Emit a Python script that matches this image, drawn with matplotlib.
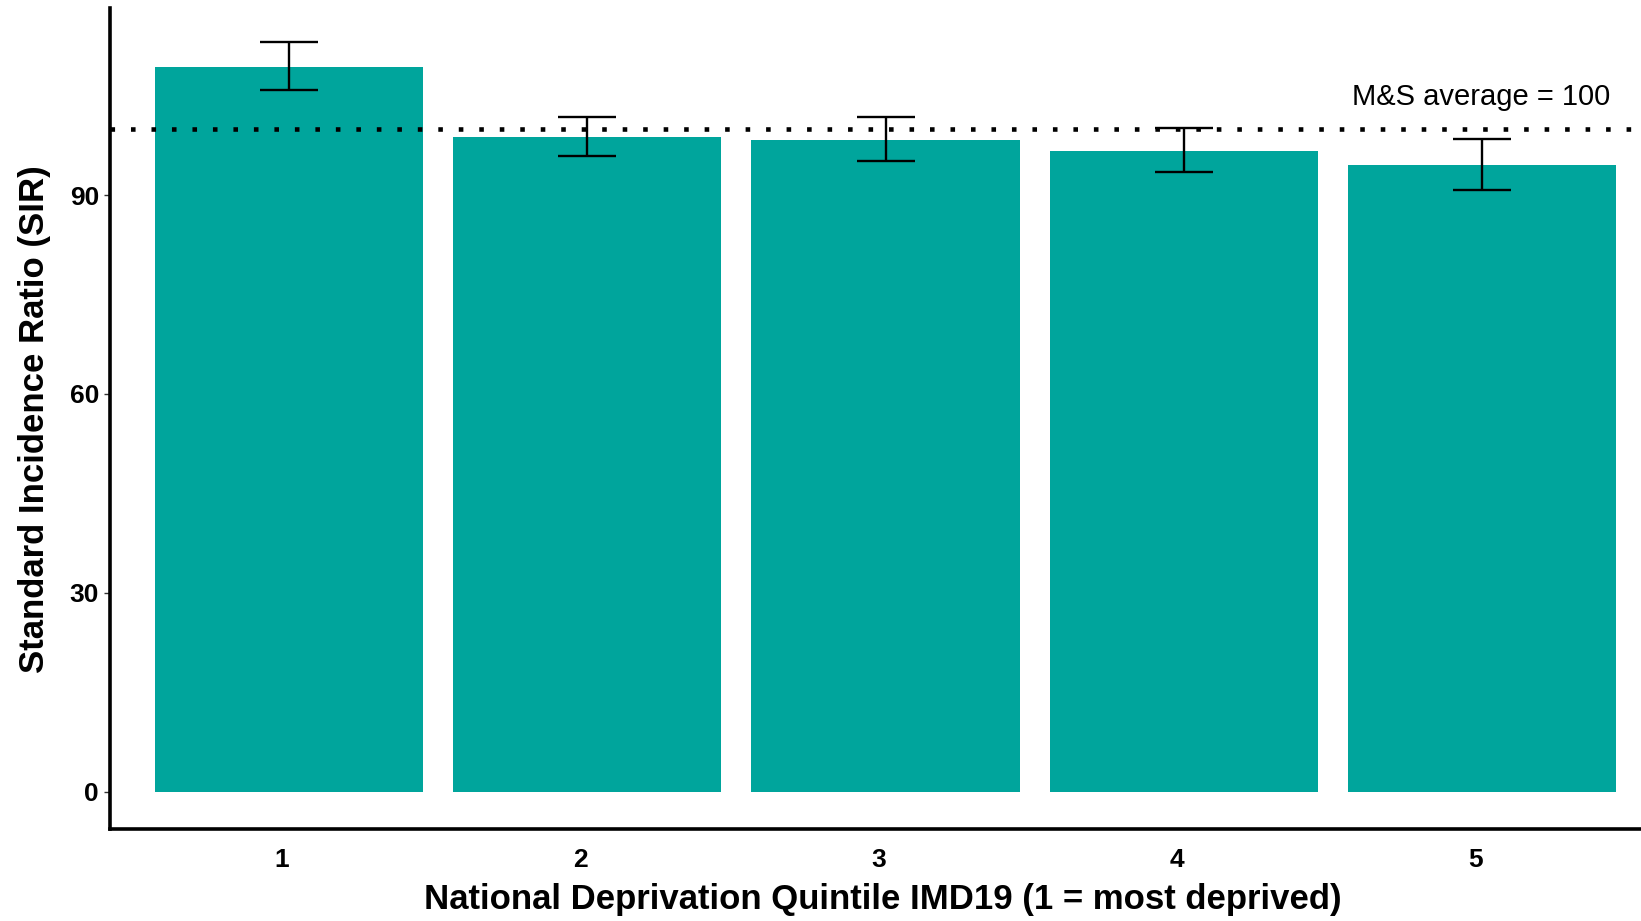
import matplotlib
matplotlib.use("Agg")
import matplotlib.pyplot as plt
import matplotlib.transforms as mtransforms

quintiles = ["1", "2", "3", "4", "5"]
sir = [109.3, 98.7, 98.3, 96.6, 94.5]
ci_low = [105.9, 95.9, 95.2, 93.4, 90.7]
ci_high = [113.0, 101.8, 101.7, 100.1, 98.5]
average = 100

teal = "#00A59C"
plt.rcParams["font.family"] = ["Liberation Sans", "DejaVu Sans"]

W, H = 1641, 921
fig = plt.figure(figsize=(W / 100, H / 100), dpi=100)
# axes placed in pixels; right edge runs past the figure like the reference
left, right, top, bottom = 110, 1661, 8, 829
ax = fig.add_axes([left / W, 1 - bottom / H, (right - left) / W, (bottom - top) / H])

x = list(range(1, len(quintiles) + 1))
ax.bar(x, sir, width=0.9, color=teal, zorder=1)
yerr = [[s - lo for s, lo in zip(sir, ci_low)], [hi - s for s, hi in zip(sir, ci_high)]]
ax.errorbar(x, sir, yerr=yerr, fmt="none", ecolor="black", elinewidth=1.7,
            capsize=21, capthick=1.7, zorder=3)

ax.axhline(average, color="black", lw=3.3, linestyle=(0, (1, 3.47)), zorder=2)
ax.text(5.43, 104.8, "M&S average = 100", ha="right", va="center", fontsize=21)

ax.set_xlim(0.4, 5.6)
ax.set_ylim(-5.6, 118.2)
ax.set_xticks(x)
ax.set_xticklabels(quintiles)
ax.set_yticks([0, 30, 60, 90])

for s in ["top", "right"]:
    ax.spines[s].set_visible(False)
for s in ["left", "bottom"]:
    ax.spines[s].set_linewidth(2.6)

ax.tick_params(axis="y", length=4, width=1, color="#333333", labelsize=19, pad=4)
ax.tick_params(axis="x", length=0, labelsize=19, pad=14)
for lab in ax.get_xticklabels() + ax.get_yticklabels():
    lab.set_fontweight("bold")
off = mtransforms.ScaledTranslation(-7 / 100, 0, fig.dpi_scale_trans)
for lab in ax.get_xticklabels():
    lab.set_transform(lab.get_transform() + off)

ax.set_xlabel("National Deprivation Quintile IMD19 (1 = most deprived)",
              fontsize=25, fontweight="bold")
ax.set_ylabel("Standard Incidence Ratio (SIR)", fontsize=25, fontweight="bold")
ax.xaxis.label.set_va("center")
ax.yaxis.label.set_va("center")
ax.xaxis.set_label_coords(((883 - left) / (right - left)), -(900 - bottom) / (bottom - top))
ax.yaxis.set_label_coords(-(left - 35) / (right - left), (bottom - 419) / (bottom - top))

fig.savefig("out.png", dpi=100)
